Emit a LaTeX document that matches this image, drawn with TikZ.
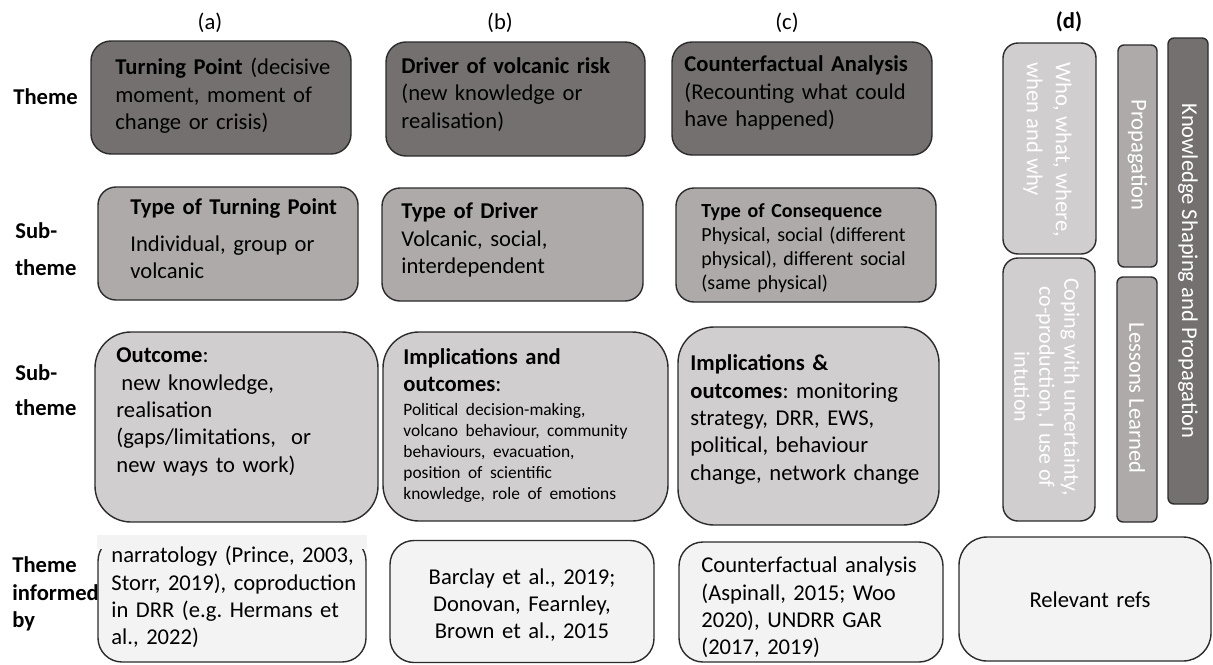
\documentclass[tikz,border=0pt]{standalone}
\usepackage{fontspec}
\setmainfont{Carlito}
\frenchspacing
\definecolor{themegray}{HTML}{757070}
\definecolor{subgray}{HTML}{AEAAAA}
\definecolor{outgray}{HTML}{D0CECE}
\definecolor{refgray}{HTML}{F3F3F3}
\definecolor{boxline}{HTML}{2B2B2B}

\begin{document}
\begin{tikzpicture}[x=0.5pt, y=-0.5pt,
  card/.style={draw=boxline, line width=0.7pt, rectangle, inner sep=0pt},
  themecard/.style={card, fill=themegray, rounded corners=10pt},
  subcard/.style={card, fill=subgray, rounded corners=9pt},
  outcard/.style={card, fill=outgray, rounded corners=18pt},
  refcard/.style={card, fill=refgray, rounded corners=12pt},
  head/.style={inner sep=0pt, font=\fontsize{11.3pt}{13.7pt}\selectfont},
  rowhead/.style={anchor=west, align=left, inner sep=0pt, font=\fontsize{11.3pt}{#1}\selectfont\bfseries},
  rowhead/.default=13.7pt,
  txt/.style={anchor=west, align=left, inner sep=0pt, text width=#1, font=\fontsize{11.3pt}{13.7pt}\selectfont},
  txt/.default=125pt,
  dtxt/.style={rotate=-90, inner sep=0pt, text=white, font=\fontsize{11.3pt}{13.7pt}\selectfont}]
\useasboundingbox (0,0) rectangle (1213,664);%
% column heads
\node[head] (headA) at (210, 23) {(a)};%
\node[head] (headB) at (500, 23) {(b)};%
\node[head] (headC) at (787, 23) {(c)};%
\node[head] (headD) at (1069, 22) {\textbf{(d)}};%
% row heads
\node[rowhead] (rowTheme) at (13, 97) {Theme};%
\node[rowhead=18.5pt] (rowSubA) at (15, 249) {Sub-\\theme};%
\node[rowhead=17.5pt] (rowSubB) at (15, 390) {Sub-\\theme};%
\node[rowhead] (rowInformed) at (12, 594) {Theme\\informed\\by};%
% theme row
\node[themecard, minimum width=130pt, minimum height=56.5pt] (turnPt) at (221, 97.5) {};%
\node[txt] (turnPtTxt) at (115, 96) {\textbf{Turning Point} (decisive\\moment, moment of\\change or crisis)};%
\node[themecard, minimum width=129.5pt, minimum height=57pt] (driver) at (515.5, 99) {};%
\node[txt] (driverTxt) at (401, 94.5) {\textbf{Driver of volcanic risk}\\(new knowledge or\\realisation)};%
\node[themecard, minimum width=130pt, minimum height=56.5pt] (counter) at (802, 98.5) {};%
\node[txt] (counterTxt) at (684, 93) {\textbf{Counterfactual Analysis}\\(Recounting what could\\have happened)};%
% sub-theme row
\node[subcard, minimum width=130pt, minimum height=56.5pt] (typeTurn) at (228, 243.5) {};%
\node[txt] (typeTurnTxt) at (130, 239) {\textbf{Type of Turning Point}\\[4.5pt]Individual, group or\\volcanic};%
\node[subcard, minimum width=130.5pt, minimum height=56.5pt] (typeDriver) at (512.5, 244.5) {};%
\node[txt] (typeDriverTxt) at (401, 240) {\textbf{Type of Driver}\\Volcanic, social,\\interdependent};%
\node[subcard, minimum width=130pt, minimum height=57pt] (typeConseq) at (806, 245) {};%
\node[txt, font=\fontsize{10pt}{12pt}\selectfont] (typeConseqTxt) at (701, 248.5) {\textbf{Type of Consequence}\\Physical, social (different\\physical), different social\\(same physical)};%
% outcome row
\node[outcard, minimum width=141.5pt, minimum height=95pt] (outcome) at (236.5, 427) {};%
\node[txt] (outcomeTxt) at (116, 412) {\textbf{Outcome}:\\\hspace*{2.5pt}new knowledge,\\realisation\\(gaps/limitations,\ \ or\\new ways to work)};%
\node[outcard, minimum width=142.5pt, minimum height=94.5pt] (implDriver) at (525.5, 426.5) {};%
\node[txt=130pt] (implDriverTxt) at (403, 425.5) {\textbf{Implications and}\\\textbf{outcomes}:\par\vspace{1.5pt}{\fontsize{8.7pt}{10.5pt}\selectfont Political decision-making,\\volcano behaviour, community\\behaviours, evacuation,\\position of scientific\\knowledge, role of emotions\par}};%
\node[outcard, minimum width=130.5pt, minimum height=99pt] (implCounter) at (808.5, 426) {};%
\node[txt] (implCounterTxt) at (690, 419.5) {\textbf{Implications \&}\\\textbf{outcomes}: monitoring\\strategy, DRR, EWS,\\political, behaviour\\change, network change};%
% informed-by row
\node[refcard, minimum width=134pt, minimum height=62.5pt] (refsA) at (232, 599.5) {};%
\fill[refgray] (97, 535) rectangle (367, 549);%
\node[txt] (refsATxt) at (111, 597) {narratology (Prince, 2003,\\Storr, 2019), coproduction\\in DRR (e.g. Hermans et\\al., 2022)};%
\node[refcard, minimum width=132pt, minimum height=61pt] (refsB) at (522, 601.5) {};%
\node[txt, anchor=center, align=center] (refsBTxt) at (522, 605) {Barclay et al., 2019;\\Donovan, Fearnley,\\Brown et al., 2015};%
\node[refcard, minimum width=132pt, minimum height=60pt] (refsC) at (811, 602) {};%
\node[txt] (refsCTxt) at (701, 607.5) {Counterfactual analysis\\(Aspinall, 2015; Woo\\2020), UNDRR GAR\\(2017, 2019)};%
\node[refcard, rounded corners=14pt, minimum width=126pt, minimum height=62pt] (refsD) at (1085, 599) {};%
\node[txt, anchor=center, align=center, text width=100pt] (refsDTxt) at (1090, 600) {Relevant refs};%
% column (d)
\node[card, fill=outgray, rounded corners=7.5pt, minimum width=46.5pt, minimum height=105.5pt] (whoBox) at (1049.5, 148.5) {};%
\node[dtxt, anchor=west, align=left, font=\fontsize{11.3pt}{14.5pt}\selectfont] (whoTxt) at (1047.5, 62) {Who, what, where,\\when and why};%
\node[card, fill=outgray, rounded corners=7.5pt, minimum width=46pt, minimum height=131.5pt] (copeBox) at (1049, 389.5) {};%
\node[dtxt, align=center, font=\fontsize{11pt}{12.5pt}\selectfont] (copeTxt) at (1047, 387) {Coping with uncertainty,\\co-production, I use of\\intution};%
\node[card, fill=subgray, rounded corners=3pt, minimum width=19.5pt, minimum height=111pt] (propBox) at (1137.5, 156) {};%
\node[dtxt] (propTxt) at (1137.5, 155) {Propagation};%
\node[card, fill=subgray, rounded corners=3pt, minimum width=20pt, minimum height=122.5pt] (lessBox) at (1137, 399.5) {};%
\node[dtxt] (lessTxt) at (1137, 398) {Lessons Learned};%
\node[card, fill=themegray, rounded corners=3pt, minimum width=20pt, minimum height=233pt] (knowBox) at (1188, 271) {};%
\node[dtxt] (knowTxt) at (1188, 271) {Knowledge Shaping and Propagation};%
\end{tikzpicture}
\end{document}
